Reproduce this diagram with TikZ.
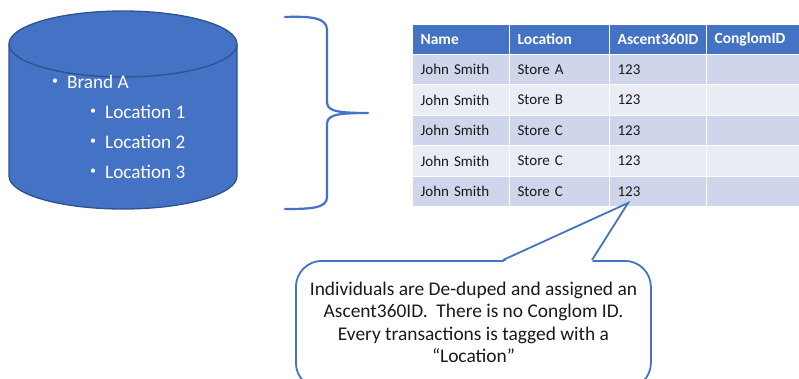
\documentclass[tikz,border=0pt]{standalone}
\usepackage{fontspec}
\setmainfont{Carlito}
\definecolor{officeblue}{HTML}{4472C4}
\definecolor{darkblue}{HTML}{2F528F}
\definecolor{rowodd}{HTML}{CFD5EA}
\definecolor{roweven}{HTML}{E9EBF5}
\definecolor{inktext}{HTML}{1A1A1A}
\begin{document}
\begin{tikzpicture}[x=1pt,y=-1pt,
  bullettext/.style={anchor=west,inner sep=0pt,text=white,font=\fontsize{19.2}{22}\selectfont},
  cellbox/.style={anchor=north west,draw=white,line width=1.2pt,inner ysep=0pt,inner xsep=8pt,
    align=left,font=\fontsize{15}{17}\selectfont,text=inktext},
  headbox/.style={cellbox,fill=officeblue,text=white,font=\fontsize{15.5}{17}\selectfont\bfseries},
  bracestroke/.style={draw=officeblue,line width=2.2pt,line join=round,line cap=round}]
\useasboundingbox (0,0) rectangle (799,378);
\clip (0,0) rectangle (799,378);

% database cylinder
\coordinate (cylTopL) at (9,44);
\coordinate (cylTopR) at (237,44);
\coordinate (cylBotL) at (9,176);
\coordinate (cylBotR) at (237,176);
\fill[officeblue] (cylTopL) -- (cylBotL) arc[start angle=180,end angle=360,x radius=114pt,y radius=33pt]
  -- (cylTopR) arc[start angle=0,end angle=180,x radius=114pt,y radius=33pt] -- cycle;
\draw[darkblue,line width=1.3pt] (cylTopL) -- (cylBotL) arc[start angle=180,end angle=360,x radius=114pt,y radius=33pt] -- (cylTopR);
\draw[darkblue,line width=1.3pt] (123,44) ellipse[x radius=114pt,y radius=33pt];

\node[bullettext] (b0) at (52,82) {\fontsize{12}{12}\selectfont•};
\node[bullettext] (brand) at (67,82) {Brand A};
\foreach \i/\yy in {1/112,2/142,3/172}{
  \node[bullettext] (bl\i) at (90,\yy) {\fontsize{12}{12}\selectfont•};
  \node[bullettext] (loc\i) at (105,\yy) {Location \i};
}

% curly brace
\coordinate (brTop) at (285,17);
\coordinate (brTip) at (368,113);
\coordinate (brBot) at (285,209);
\draw[bracestroke] (brTop) .. controls (312,16) and (327,18) .. (327,30) -- (327,101)
  .. controls (327,110) and (332,113) .. (brTip)
  .. controls (332,113) and (327,116) .. (327,125) -- (327,197)
  .. controls (327,208) and (312,209) .. (brBot);

% table
\foreach \c/\xx/\ww/\lbl in {1/412/97/Name,2/509/100/Location,3/609/97/Ascent360ID,4/706/124/ConglomID}{
  \node[headbox,minimum height=29.5pt,text width=\ww pt-16pt] (h\c) at (\xx,24) {\lbl};
}
\foreach \r/\yy/\col/\loc in {1/53.5/rowodd/Store A,2/84/roweven/Store B,3/114.5/rowodd/Store C,4/145/roweven/Store C,5/175.5/rowodd/Store C}{
  \node[cellbox,fill=\col,minimum height=30.5pt,text width=81pt] (n\r) at (412,\yy) {John Smith};
  \node[cellbox,fill=\col,minimum height=30.5pt,text width=84pt] (l\r) at (509,\yy) {\loc};
  \node[cellbox,fill=\col,minimum height=30.5pt,text width=81pt] (a\r) at (609,\yy) {123};
  \node[cellbox,fill=\col,minimum height=30.5pt,text width=108pt] (g\r) at (706,\yy) {};
}

% callout
\node[draw=officeblue,line width=1.8pt,fill=white,rounded corners=26pt,anchor=north west,
  minimum width=355pt,minimum height=128pt,inner sep=0pt] (callout) at (295,260) {};
\coordinate (ptrL) at (503,260);
\coordinate (ptrR) at (592,260);
\coordinate (ptrTip) at (628,203);
\fill[white] (503,262) -- (ptrTip) -- (592,262) -- cycle;
\draw[officeblue,line width=1.8pt,line join=miter] (ptrL) -- (ptrTip) -- (ptrR);
\node[align=center,text=inktext,font=\fontsize{19.4}{22.5}\selectfont,inner sep=0pt] (note) at (473.5,322.5)
  {Individuals are De-duped and assigned an\\Ascent360ID.\ \ There is no Conglom ID.\\Every transactions is tagged with a\\“Location”};
\end{tikzpicture}
\end{document}
